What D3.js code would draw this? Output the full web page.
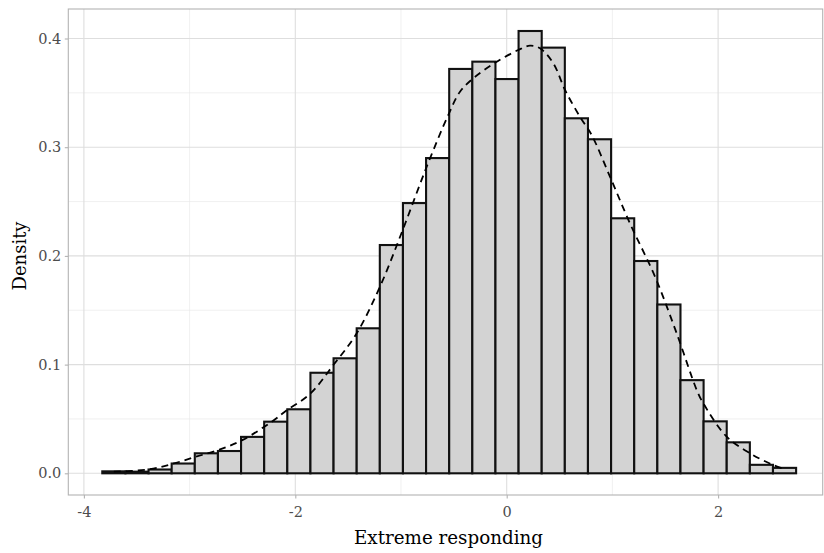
<!DOCTYPE html>
<html>
<head>
<meta charset="utf-8">
<script src="https://cdn.jsdelivr.net/npm/d3@7"></script>
<style>
  html, body { margin: 0; padding: 0; background: #fff; }
  svg { display: block; }
</style>
</head>
<body>
<svg id="chart" width="824" height="553"></svg>
<script>
// ---- data ----
const binStart = -3.826;
const binWidth = 0.2188;
const binDensity = [
  0.0018, 0.0015, 0.0035, 0.0090, 0.0184, 0.0205, 0.0335, 0.0475, 0.0589, 0.0925,
  0.1058, 0.1334, 0.2100, 0.2486, 0.2900, 0.3720, 0.3787, 0.3627, 0.4069, 0.3916,
  0.3266, 0.3073, 0.2346, 0.1953, 0.1553, 0.0857, 0.0478, 0.0285, 0.0078, 0.0050
];
const kdeX = [-3.717, -3.394, -3.169, -2.949, -2.712, -2.492, -2.223, -2.081, -1.861, -1.640,
  -1.419, -1.199, -0.984, -0.757, -0.553, -0.442, -0.316, -0.111, 0.110, 0.220,
  0.315, 0.441, 0.552, 0.693, 0.804, 0.977, 1.166, 1.403, 1.608, 1.798,
  1.860, 2.081, 2.302, 2.522, 2.628];
const kdeY = [0.0015, 0.0035, 0.0085, 0.0150, 0.0220, 0.0310, 0.0475, 0.0580, 0.0730, 0.0996,
  0.1288, 0.1717, 0.2238, 0.2820, 0.3296, 0.3510, 0.3634, 0.3777, 0.3894, 0.3934,
  0.3910, 0.3772, 0.3526, 0.3280, 0.3112, 0.2729, 0.2300, 0.1809, 0.1288, 0.0766,
  0.0644, 0.0337, 0.0184, 0.0076, 0.0040];
const xTicks = [-4, -2, 0, 2];
const xMinor = [-3, -1, 1];
const yTicks = [0.0, 0.1, 0.2, 0.3, 0.4];
const yMinor = [0.05, 0.15, 0.25, 0.35];
const xTitle = "Extreme responding";
const yTitle = "Density";

// ---- layout ----
const panel = { left: 68.3, right: 822.7, top: 9, bottom: 495 };
const x = d3.scaleLinear().domain([-4.1476, 2.9896]).range([panel.left, panel.right]);
const y = d3.scaleLinear().domain([-0.01996, 0.42714]).range([panel.bottom, panel.top]);

const svg = d3.select("#chart");
const font = "'DejaVu Serif', serif";

// grid
const g = svg.append("g");
g.selectAll("line.ymin").data(yMinor).join("line")
  .attr("x1", panel.left).attr("x2", panel.right)
  .attr("y1", d => y(d)).attr("y2", d => y(d))
  .attr("stroke", "#e6e6e6").attr("stroke-width", 0.6);
g.selectAll("line.xmin").data(xMinor).join("line")
  .attr("y1", panel.top).attr("y2", panel.bottom)
  .attr("x1", d => x(d)).attr("x2", d => x(d))
  .attr("stroke", "#e6e6e6").attr("stroke-width", 0.6);
g.selectAll("line.ymaj").data(yTicks).join("line")
  .attr("x1", panel.left).attr("x2", panel.right)
  .attr("y1", d => y(d)).attr("y2", d => y(d))
  .attr("stroke", "#dedede").attr("stroke-width", 1.1);
g.selectAll("line.xmaj").data(xTicks).join("line")
  .attr("y1", panel.top).attr("y2", panel.bottom)
  .attr("x1", d => x(d)).attr("x2", d => x(d))
  .attr("stroke", "#dedede").attr("stroke-width", 1.1);

// bars
svg.append("g").selectAll("rect").data(binDensity).join("rect")
  .attr("x", (d, i) => x(binStart + i * binWidth))
  .attr("width", (d, i) => x(binStart + (i + 1) * binWidth) - x(binStart + i * binWidth))
  .attr("y", d => y(d))
  .attr("height", d => y(0) - y(d))
  .attr("fill", "#d3d3d3")
  .attr("stroke", "#111")
  .attr("stroke-width", 2.1);

// density curve
const line = d3.line()
  .x(d => x(d[0])).y(d => y(d[1]))
  .curve(d3.curveCatmullRom.alpha(0.5));
svg.append("path")
  .datum(kdeX.map((v, i) => [v, kdeY[i]]))
  .attr("d", line)
  .attr("fill", "none")
  .attr("stroke", "#000")
  .attr("stroke-width", 1.8)
  .attr("stroke-dasharray", "7,5");

// panel border
svg.append("rect")
  .attr("x", panel.left).attr("y", panel.top)
  .attr("width", panel.right - panel.left).attr("height", panel.bottom - panel.top)
  .attr("fill", "none").attr("stroke", "#b3b3b3").attr("stroke-width", 1.1);

// axes
const xAxis = d3.axisBottom(x).tickValues(xTicks).tickSize(3.5).tickPadding(8.5)
  .tickFormat(d3.format("d"));
const xg = svg.append("g").attr("transform", `translate(0,${panel.bottom})`).call(xAxis);
const yAxis = d3.axisLeft(y).tickValues(yTicks).tickSize(3.5).tickPadding(3.5)
  .tickFormat(d3.format(".1f"));
const yg = svg.append("g").attr("transform", `translate(${panel.left},0)`).call(yAxis);
[xg, yg].forEach(a => {
  a.select(".domain").remove();
  a.selectAll(".tick line").attr("stroke", "#b3b3b3").attr("stroke-width", 1.1);
  a.selectAll(".tick text").attr("fill", "#4d4d4d")
    .style("font-family", font).style("font-size", "14.5px");
});
xg.selectAll(".tick text").text(d => d < 0 ? "-" + Math.abs(d) : String(d));

// titles
svg.append("text")
  .attr("x", (panel.left + panel.right) / 2 + 3).attr("y", 544)
  .attr("text-anchor", "middle")
  .style("font-family", font).style("font-size", "18.3px").attr("fill", "#000")
  .text(xTitle);
svg.append("text")
  .attr("transform", `translate(26,${(panel.top + panel.bottom) / 2 + 4}) rotate(-90)`)
  .attr("text-anchor", "middle")
  .style("font-family", font).style("font-size", "18px").attr("fill", "#000")
  .text(yTitle);
</script>
</body>
</html>
